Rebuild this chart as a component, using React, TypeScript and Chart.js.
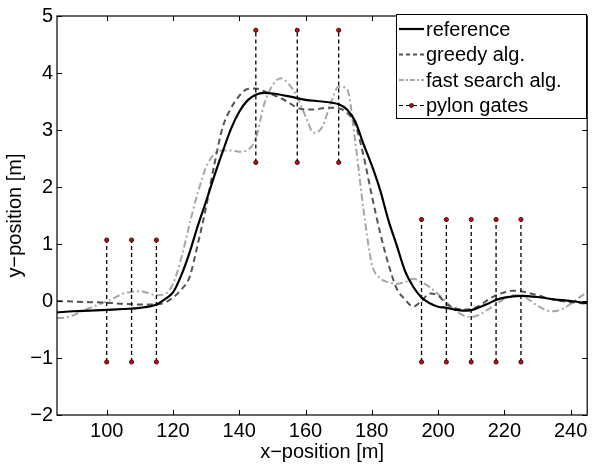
import React, { useEffect, useRef } from "react";
import { Chart, registerables } from "chart.js";

Chart.register(...registerables);

// ---- data ----
const X_TICKS = [100, 120, 140, 160, 180, 200, 220, 240];
const Y_TICKS = [-2, -1, 0, 1, 2, 3, 4, 5];
const X_MIN = 85;
const X_MAX = 245;
const Y_MIN = -2;
const Y_MAX = 5;

const SERIES_LABELS = ["reference", "greedy alg.", "fast search alg.", "pylon gates"];

const REF_X = [85, 90, 95, 100, 105, 110, 115, 117.5, 120, 122.5, 125, 127.5, 130, 132.5, 135, 137.5, 140, 142.5, 145, 147.5, 150, 155, 160, 165, 170, 172.5, 175, 177.5, 180, 182.5, 185, 187.5, 190, 192.5, 195, 197.5, 200, 202.5, 205, 207.5, 210, 212.5, 215, 217.5, 220, 225, 230, 235, 240, 245];
const REF_Y = [-0.2, -0.18, -0.17, -0.155, -0.14, -0.12, -0.06, 0.03, 0.15, 0.45, 0.85, 1.32, 1.75, 2.2, 2.62, 3.02, 3.32, 3.52, 3.62, 3.65, 3.64, 3.59, 3.53, 3.5, 3.45, 3.36, 3.15, 2.75, 2.38, 1.95, 1.42, 0.98, 0.53, 0.25, 0.06, -0.04, -0.1, -0.12, -0.15, -0.17, -0.16, -0.11, -0.05, 0.02, 0.06, 0.09, 0.07, 0.03, 0.0, -0.04];

const GREEDY_X = [85, 90, 95, 100, 105, 110, 115, 117.5, 120, 122.5, 125, 127.5, 130, 132.5, 135, 137.5, 140, 142.5, 145, 147.5, 150, 152.5, 155, 157.5, 160, 162.5, 165, 167.5, 170, 172.5, 175, 177.5, 180, 182.5, 185, 187.5, 190, 192.5, 195, 197.5, 200, 202.5, 205, 207.5, 210, 212.5, 215, 217.5, 220, 222.5, 225, 230, 235, 240, 245];
const GREEDY_Y = [0.0, -0.01, -0.02, -0.03, -0.05, -0.06, -0.06, -0.03, 0.06, 0.2, 0.42, 1.0, 1.65, 2.4, 3.05, 3.38, 3.6, 3.72, 3.73, 3.68, 3.62, 3.56, 3.48, 3.39, 3.36, 3.36, 3.38, 3.39, 3.38, 3.3, 3.1, 2.55, 1.85, 1.2, 0.65, 0.22, 0.03, -0.1, 0.0, 0.13, 0.1, -0.05, -0.12, -0.15, -0.14, -0.08, 0.02, 0.1, 0.15, 0.18, 0.17, 0.1, 0.02, -0.02, -0.05];

const FAST_X = [85, 87.5, 90, 92.5, 95, 97.5, 100, 102.5, 105, 107.5, 110, 112.5, 115, 117.5, 120, 122.5, 125, 127.5, 130, 132.5, 135, 137.5, 140, 142.5, 145, 147.5, 150, 152.5, 155, 157.5, 160, 162.5, 165, 167.5, 170, 172.5, 175, 177.5, 180, 182.5, 185, 187.5, 190, 192.5, 195, 197.5, 200, 202.5, 205, 207.5, 210, 212.5, 215, 217.5, 220, 222.5, 225, 227.5, 230, 232.5, 235, 237.5, 240, 242.5, 245];
const FAST_Y = [-0.3, -0.29, -0.25, -0.18, -0.12, -0.06, -0.01, 0.06, 0.13, 0.16, 0.17, 0.14, 0.1, 0.12, 0.3, 0.75, 1.35, 1.9, 2.35, 2.58, 2.64, 2.64, 2.62, 2.65, 2.85, 3.45, 3.78, 3.91, 3.8, 3.58, 3.24, 2.95, 3.05, 3.45, 3.76, 3.72, 2.8, 1.6, 0.65, 0.4, 0.33, 0.3, 0.33, 0.39, 0.33, 0.24, 0.12, -0.02, -0.15, -0.25, -0.28, -0.24, -0.15, -0.06, 0.04, 0.1, 0.1, 0.02, -0.08, -0.16, -0.18, -0.14, -0.05, 0.06, 0.15];

const GATE_X = [100, 107.5, 115, 145, 157.5, 170, 195, 202.5, 210, 217.5, 225];
const GATE_LOW = [-1.07, -1.07, -1.07, 2.43, 2.43, 2.43, -1.07, -1.07, -1.07, -1.07, -1.07];
const GATE_HIGH = [1.07, 1.07, 1.07, 4.75, 4.75, 4.75, 1.43, 1.43, 1.43, 1.43, 1.43];

const X_TITLE = "x\u2212position [m]";
const Y_TITLE = "y\u2212position [m]";

// ---- styles ----
const FONT_FAMILY = "'Liberation Sans', Arial, Helvetica, sans-serif";
const REF_COLOR = "#000000";
const GREEDY_COLOR = "#545454";
const FAST_COLOR = "#a6a6a6";
const GATE_COLOR = "#000000";
const GATE_POINT = "#e00000";
const GREEDY_DASH = [6, 4];
const FAST_DASH = [7, 3, 2, 3];
const GATE_DASH = [4, 3];

const toPoints = (xs: number[], ys: number[]) => xs.map((x, i) => ({ x, y: ys[i] }));

const gatePoints = () => {
  const pts: { x: number; y: number | null }[] = [];
  GATE_X.forEach((x, i) => {
    pts.push({ x, y: GATE_LOW[i] });
    pts.push({ x, y: GATE_HIGH[i] });
    pts.push({ x, y: null });
  });
  return pts;
};

const minusFmt = (v: number) => (v < 0 ? "\u2212" + Math.abs(v) : String(v));

const frameAndLegend = {
  id: "frameAndLegend",
  afterDraw(chart: any) {
    const { ctx, chartArea } = chart;
    const { left, right, top, bottom } = chartArea;
    const xs = chart.scales.x;
    const ys = chart.scales.y;
    ctx.save();
    // box
    ctx.strokeStyle = "#000";
    ctx.lineWidth = 1.2;
    ctx.setLineDash([]);
    ctx.strokeRect(left, top, right - left, bottom - top);
    // inward ticks
    const tl = 5;
    ctx.lineWidth = 1;
    ctx.beginPath();
    X_TICKS.forEach((v) => {
      const p = Math.round(xs.getPixelForValue(v)) + 0.5;
      ctx.moveTo(p, bottom);
      ctx.lineTo(p, bottom - tl);
      ctx.moveTo(p, top);
      ctx.lineTo(p, top + tl);
    });
    Y_TICKS.forEach((v) => {
      const p = Math.round(ys.getPixelForValue(v)) + 0.5;
      ctx.moveTo(left, p);
      ctx.lineTo(left + tl, p);
      ctx.moveTo(right, p);
      ctx.lineTo(right - tl, p);
    });
    ctx.stroke();

    // legend
    const bx = 396.5;
    const by = 14.5;
    const bw = 190;
    const bh = 104;
    ctx.fillStyle = "#fff";
    ctx.fillRect(bx, by, bw, bh);
    ctx.strokeStyle = "#000";
    ctx.lineWidth = 1;
    ctx.strokeRect(bx, by, bw, bh);
    const rows = [29, 54.5, 80, 105.5];
    const lx0 = 399;
    const lx1 = 424;
    const styles = [
      { color: REF_COLOR, dash: [] as number[], width: 2.2 },
      { color: GREEDY_COLOR, dash: [4, 3], width: 1.8 },
      { color: FAST_COLOR, dash: [5, 2, 2, 2], width: 1.8 },
      { color: GATE_COLOR, dash: [4, 3], width: 1.2 },
    ];
    ctx.font = `20px ${FONT_FAMILY}`;
    ctx.textBaseline = "middle";
    ctx.textAlign = "left";
    SERIES_LABELS.forEach((label, i) => {
      const y = rows[i];
      const s = styles[i];
      ctx.strokeStyle = s.color;
      ctx.lineWidth = s.width;
      ctx.setLineDash(s.dash);
      ctx.beginPath();
      ctx.moveTo(lx0, y);
      ctx.lineTo(lx1, y);
      ctx.stroke();
      if (i === 3) {
        ctx.setLineDash([]);
        ctx.beginPath();
        ctx.arc((lx0 + lx1) / 2, y, 2, 0, Math.PI * 2);
        ctx.fillStyle = GATE_POINT;
        ctx.fill();
        ctx.lineWidth = 0.8;
        ctx.strokeStyle = "#000";
        ctx.stroke();
      }
      ctx.setLineDash([]);
      ctx.fillStyle = "#000";
      ctx.fillText(label, 426, y + 1);
    });
    ctx.restore();
  },
};

export default function App() {
  const ref = useRef<HTMLCanvasElement | null>(null);

  useEffect(() => {
    document.body.style.margin = "0";
    const canvas = ref.current;
    if (!canvas) return;
    const chart = new Chart(canvas, {
      type: "line",
      data: {
        datasets: [
          {
            label: SERIES_LABELS[3],
            data: gatePoints() as any,
            borderColor: GATE_COLOR,
            borderWidth: 1.3,
            borderDash: GATE_DASH,
            pointRadius: 2.1,
            pointBackgroundColor: GATE_POINT,
            pointBorderColor: "#000",
            pointBorderWidth: 0.8,
            spanGaps: false,
            tension: 0,
            order: 0,
          },
          {
            label: SERIES_LABELS[2],
            data: toPoints(FAST_X, FAST_Y),
            borderColor: FAST_COLOR,
            borderWidth: 2,
            borderDash: FAST_DASH,
            pointRadius: 0,
            cubicInterpolationMode: "monotone",
            order: 3,
          },
          {
            label: SERIES_LABELS[1],
            data: toPoints(GREEDY_X, GREEDY_Y),
            borderColor: GREEDY_COLOR,
            borderWidth: 2,
            borderDash: GREEDY_DASH,
            pointRadius: 0,
            cubicInterpolationMode: "monotone",
            order: 2,
          },
          {
            label: SERIES_LABELS[0],
            data: toPoints(REF_X, REF_Y),
            borderColor: REF_COLOR,
            borderWidth: 2.2,
            pointRadius: 0,
            cubicInterpolationMode: "monotone",
            order: 1,
          },
        ],
      },
      options: {
        animation: false,
        responsive: false,
        events: [],
        layout: { padding: { top: 10, right: 1.5, left: 0, bottom: 0 } },
        plugins: {
          legend: { display: false },
          tooltip: { enabled: false },
        },
        scales: {
          x: {
            type: "linear",
            min: X_MIN,
            max: X_MAX,
            grid: { display: false, drawTicks: false },
            border: { display: false },
            afterBuildTicks: (s: any) => {
              s.ticks = X_TICKS.map((v) => ({ value: v }));
            },
            afterFit: (s: any) => {
              s.height = 49;
            },
            ticks: {
              padding: 4,
              maxRotation: 0,
              autoSkip: false,
              color: "#000",
              font: { family: FONT_FAMILY, size: 20 },
              callback: (v: any) => minusFmt(Number(v)),
            },
            title: {
              display: true,
              text: X_TITLE,
              color: "#000",
              font: { family: FONT_FAMILY, size: 20 },
              padding: { top: 0, bottom: 0 },
            },
          },
          y: {
            type: "linear",
            min: Y_MIN,
            max: Y_MAX,
            grid: { display: false, drawTicks: false },
            border: { display: false },
            afterBuildTicks: (s: any) => {
              s.ticks = Y_TICKS.map((v) => ({ value: v }));
            },
            afterFit: (s: any) => {
              s.width = 57;
            },
            ticks: {
              padding: 4,
              autoSkip: false,
              color: "#000",
              font: { family: FONT_FAMILY, size: 20 },
              callback: (v: any) => minusFmt(Number(v)),
            },
            title: {
              display: true,
              text: Y_TITLE,
              color: "#000",
              font: { family: FONT_FAMILY, size: 20 },
              padding: { top: 3, bottom: 0 },
            },
          },
        },
      },
      plugins: [frameAndLegend],
    });
    return () => chart.destroy();
  }, []);

  return (
    <div style={{ width: 592, height: 464, background: "#fff" }}>
      <canvas ref={ref} width={592} height={464} style={{ display: "block" }} />
    </div>
  );
}
